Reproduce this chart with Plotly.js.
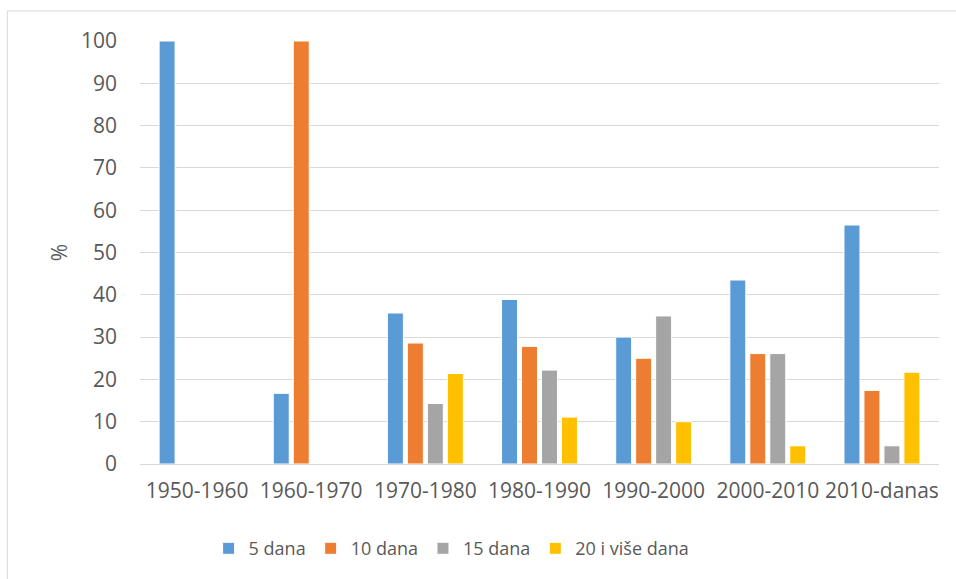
<!DOCTYPE html>
<html>
<head>
<meta charset="utf-8">
<script src="https://cdn.plot.ly/plotly-3.0.1.min.js"></script>
<style>html,body{margin:0;padding:0;background:#fff;}#chart{width:956px;height:579px;}</style>
</head>
<body>
<div id="chart"></div>
<script>
const categories = ["1950-1960", "1960-1970", "1970-1980", "1980-1990", "1990-2000", "2000-2010", "2010-danas"];
const seriesNames = ["5 dana", "10 dana", "15 dana", "20 i više dana"];
const dana5 = [100, 16.7, 35.7, 38.9, 30, 43.5, 56.5];
const dana10 = [0, 100, 28.6, 27.8, 25, 26.1, 17.4];
const dana15 = [0, 0, 14.3, 22.2, 35, 26.1, 4.3];
const dana20 = [0, 0, 21.4, 11.1, 10, 4.3, 21.7];
const colors = ["#5b9bd5", "#ed7d31", "#a5a5a5", "#ffc000"];
const yTicks = [0, 10, 20, 30, 40, 50, 60, 70, 80, 90, 100];

const allSeries = [dana5, dana10, dana15, dana20];
const traces = allSeries.map((vals, i) => ({
  type: "bar",
  name: seriesNames[i],
  x: categories,
  y: vals,
  marker: {color: colors[i], line: {color: "#ffffff", width: 1}},
  hoverinfo: "skip"
}));

const font = "Open Sans, Noto Sans, Liberation Sans, sans-serif";
const layout = {
  width: 956, height: 579,
  margin: {l: 140, r: 17, t: 41, b: 115},
  paper_bgcolor: "#ffffff",
  plot_bgcolor: "#ffffff",
  barmode: "group",
  bargap: 0.3,
  bargroupgap: 0.2,
  font: {family: font, color: "#595959", size: 18},
  xaxis: {
    type: "category",
    showgrid: false,
    showline: false,
    ticks: "",
    ticklabelstandoff: 12,
    tickfont: {size: 21, color: "#595959"},
    zeroline: false
  },
  yaxis: {
    range: [0, 100],
    tickvals: yTicks,
    ticktext: yTicks.map(String),
    showgrid: true,
    gridcolor: "#d9d9d9",
    gridwidth: 1,
    zeroline: true,
    zerolinecolor: "#d9d9d9",
    zerolinewidth: 1,
    showline: false,
    ticks: "",
    ticklabelstandoff: 22,
    tickfont: {size: 21, color: "#595959"},
    title: {text: "%", font: {size: 21, color: "#595959"}, standoff: 7}
  },
  legend: {
    orientation: "h",
    x: 0.39, xanchor: "center",
    y: -0.2, yanchor: "middle",
    font: {size: 18, color: "#595959"},
    itemwidth: 30,
    traceorder: "normal"
  },
  shapes: [
    {type: "line", xref: "paper", yref: "paper", x0: -0.166, x1: 1.03, y0: 1.071, y1: 1.071, line: {color: "#d9d9d9", width: 1}},
    {type: "line", xref: "paper", yref: "paper", x0: -0.166, x1: -0.166, y0: 1.071, y1: -0.28, line: {color: "#d9d9d9", width: 1}}
  ],
  showlegend: true
};

Plotly.newPlot("chart", traces, layout, {displayModeBar: false, staticPlot: true});
</script>
</body>
</html>
